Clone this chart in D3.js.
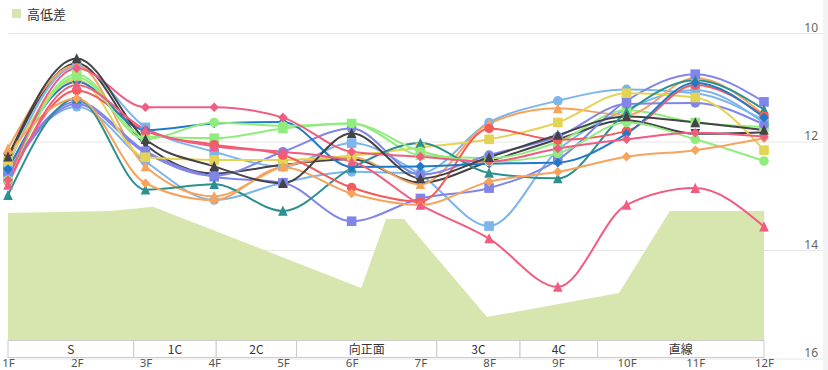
<!DOCTYPE html>
<html><head><meta charset="utf-8">
<script src="https://cdn.jsdelivr.net/npm/d3@7"></script>
<style>
html,body{margin:0;padding:0;background:#fff;}
svg{display:block;font-family:"Noto Sans CJK JP","Noto Sans",sans-serif;}
</style></head>
<body><svg id="c" width="828" height="370"></svg>
<script>
const floors = ["1F","2F","3F","4F","5F","6F","7F","8F","9F","10F","11F","12F"];
const sectionNames = ["S","1C","2C","向正面","3C","4C","直線"];
const sectionEdges = [1, 2.83, 4.03, 5.2, 7.24, 8.45, 9.58, 12];
const elevPos = [1, 2.48, 3.11, 6.14, 6.5, 6.76, 7.97, 9.89, 10.63, 12];
const elevVal = [2.05, 2.08, 2.15, 0.84, 1.95, 1.95, 0.37, 0.76, 2.08, 2.08];
const yTicks = [10, 12, 14, 16];

const lbCircle  = [12.45,11.35,12.36,13.07,12.75,12.55,12.57,11.64,11.24,11.03,11.10,11.60];
const lbSquare  = [12.42,10.60,11.73,12.18,12.45,12.02,12.60,13.55,12.15,11.40,11.04,11.65];
const darkA     = [12.27,10.46,11.95,12.45,12.76,11.84,12.67,12.28,11.87,11.53,11.64,11.78];
const darkB     = [12.30,10.55,12.05,12.58,12.42,12.32,12.75,12.36,11.95,11.60,11.85,11.82];
const greenSq   = [12.65,10.75,11.90,11.93,11.75,11.66,12.24,12.30,12.00,11.41,11.64,11.72];
const greenCi   = [12.70,10.80,11.95,11.64,11.70,11.66,12.17,12.36,12.21,11.64,11.95,12.35];
const orangeTri = [12.12,10.58,12.45,13.00,12.45,12.28,12.78,11.66,11.38,11.50,10.82,11.50];
const orangeDia = [12.20,11.20,12.76,13.07,12.47,12.95,13.16,12.73,12.55,12.27,12.15,11.93];
const purpleSq  = [12.55,11.26,12.17,12.64,12.75,13.46,13.04,12.85,12.33,11.24,10.75,11.26];
const purpleCi  = [12.60,11.30,12.20,12.62,12.18,11.75,12.60,12.24,11.90,11.30,11.28,11.68];
const pinkDia   = [12.70,10.64,11.36,11.36,11.55,12.18,12.27,12.36,12.12,11.95,11.83,11.90];
const pinkTri   = [12.79,10.95,11.77,12.08,12.18,12.36,13.16,13.78,14.67,13.16,12.85,13.56];
const yellowSq  = [12.35,10.85,12.28,12.33,12.33,12.25,12.10,11.95,11.64,11.10,11.18,12.15];
const tealTri   = [12.98,11.20,12.88,12.78,13.27,12.48,12.02,12.57,12.67,11.45,10.86,11.40];
const redCi     = [12.72,11.05,11.80,12.05,12.24,12.84,13.10,11.75,11.96,11.80,10.95,11.52];
const blueDia   = [12.50,10.89,11.78,11.66,11.63,12.46,12.45,12.40,12.38,11.85,10.91,11.55];

const series = [
  {v: lbCircle,  c: "#7cb5ec", m: "circle"},
  {v: lbSquare,  c: "#7cb5ec", m: "square"},
  {v: darkB,     c: "#434348", m: "tdown"},
  {v: greenSq,   c: "#90ed7d", m: "square"},
  {v: orangeTri, c: "#f7a35c", m: "triangle"},
  {v: purpleSq,  c: "#8085e9", m: "square"},
  {v: purpleCi,  c: "#8085e9", m: "circle"},
  {v: yellowSq,  c: "#e4d354", m: "square"},
  {v: tealTri,   c: "#2b908f", m: "triangle"},
  {v: redCi,     c: "#f45b5b", m: "circle"},
  {v: blueDia,   c: "#1f7bc8", m: "diamond"},
  {v: greenCi,   c: "#90ed7d", m: "circle"},
  {v: orangeDia, c: "#f7a35c", m: "diamond"},
  {v: pinkDia,   c: "#f15c80", m: "diamond"},
  {v: darkA,     c: "#434348", m: "triangle"},
  {v: pinkTri,   c: "#f15c80", m: "triangle"}
];

const svg = d3.select("#c");
const x = d3.scaleLinear().domain([1, 12]).range([8, 764]);
const y = d3.scaleLinear().domain([10, 16]).range([33.5, 359]);
const ye = d3.scaleLinear().domain([0, 5]).range([340, 30]);

// right edge stripe
svg.append("rect").attr("x", 823).attr("y", 0).attr("width", 5).attr("height", 370).attr("fill", "#f3f3f3");

// gridlines
svg.append("g").selectAll("line").data(yTicks).join("line")
  .attr("x1", 8).attr("x2", 823)
  .attr("y1", d => y(d)).attr("y2", d => y(d))
  .attr("stroke", "#e6e6e6").attr("stroke-width", 1);

// elevation area
const elev = elevPos.map((p, i) => [p, elevVal[i]]);
svg.append("path").datum(elev)
  .attr("d", d3.area().x(d => x(d[0])).y0(ye(0)).y1(d => ye(d[1])))
  .attr("fill", "#d7e6ae");

// section band
const band = svg.append("g");
sectionNames.forEach((n, i) => {
  const x0 = x(sectionEdges[i]), x1 = x(sectionEdges[i + 1]);
  band.append("rect").attr("x", x0).attr("y", 340.5).attr("width", x1 - x0).attr("height", 17)
    .attr("fill", "#fff").attr("stroke", "#cccccc").attr("stroke-width", 1);
  band.append("text").attr("x", (x0 + x1) / 2).attr("y", 353.5).attr("text-anchor", "middle")
    .attr("font-size", 12).attr("fill", "#333").text(n);
});

// x axis
const xa = svg.append("g").attr("transform", "translate(0,358)")
  .call(d3.axisBottom(x).tickValues(d3.range(1, 13)).tickFormat(i => floors[i - 1]).tickSize(0).tickPadding(1));
xa.select(".domain").remove();
xa.selectAll("text").attr("font-size", 11.5).attr("fill", "#555").attr("font-family", "'Noto Sans',sans-serif");

// right axis labels
svg.append("g").selectAll("text").data(yTicks).join("text")
  .attr("x", 818).attr("y", d => y(d) - 2).attr("text-anchor", "end")
  .attr("font-size", 12).attr("fill", "#666").attr("font-family", "'Noto Sans',sans-serif")
  .text(d => d);

// lines
const line = d3.line().x((d, i) => x(i + 1)).y(d => y(d)).curve(d3.curveMonotoneX);
const r = 4.8;
function markerPath(m) {
  switch (m) {
    case "circle": return d3.arc()({innerRadius: 0, outerRadius: r, startAngle: 0, endAngle: 2 * Math.PI});
    case "square": return `M${-r},${-r}H${r}V${r}H${-r}Z`;
    case "triangle": return `M0,${-r - 0.5}L${r},${r}L${-r},${r}Z`;
    case "tdown": return `M${-r},${-r}L${r},${-r}L0,${r + 0.5}Z`;
    case "diamond": return `M0,${-r}L${r},0L0,${r}L${-r},0Z`;
  }
}
const sg = svg.append("g");
series.forEach(s => {
  sg.append("path").datum(s.v).attr("d", line)
    .attr("fill", "none").attr("stroke", s.c).attr("stroke-width", 2)
    .attr("stroke-linejoin", "round").attr("stroke-linecap", "round");
});
series.forEach(s => {
  sg.append("g").selectAll("path").data(s.v).join("path")
    .attr("transform", (d, i) => `translate(${x(i + 1)},${y(d)})`)
    .attr("d", markerPath(s.m)).attr("fill", s.c);
});

// legend
svg.append("rect").attr("x", 12).attr("y", 9).attr("width", 9).attr("height", 9).attr("fill", "#d7e6ae");
svg.append("text").attr("x", 27).attr("y", 18.5).attr("font-size", 13).attr("fill", "#333").text("高低差");
</script>
</body></html>
